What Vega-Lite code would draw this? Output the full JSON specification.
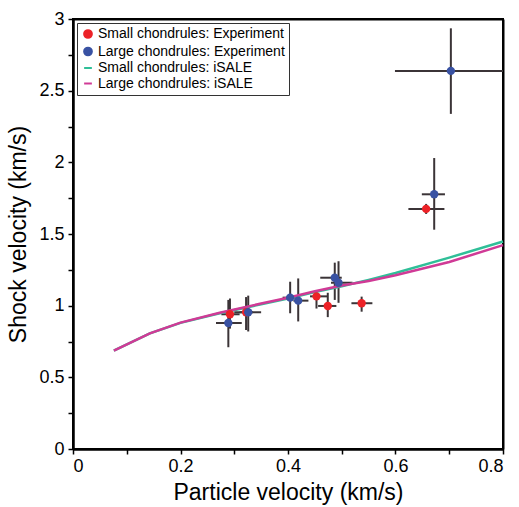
{
  "$schema": "https://vega.github.io/schema/vega-lite/v6.json",
  "width": 430,
  "height": 430,
  "autosize": {"type": "none"},
  "padding": {"left": 73, "top": 19, "right": 16, "bottom": 58},
  "background": "white",
  "config": {
    "view": {"stroke": "black", "strokeWidth": 2},
    "font": "Liberation Sans",
    "axis": {
      "domainColor": "black",
      "domainWidth": 2,
      "grid": true,
      "gridColor": "black",
      "gridWidth": 2,
      "tickColor": "black",
      "tickWidth": 1.5,
      "tickSize": 5,
      "labelFont": "Liberation Sans",
      "labelFontSize": 18,
      "labelColor": "black",
      "titleFont": "Liberation Sans",
      "titleFontSize": 23,
      "titleFontWeight": "normal",
      "titleColor": "black"
    }
  },
  "datasets": {
    "exp": [
      {"series": "Small chondrules: Experiment", "u": 0.292, "v": 0.94, "ulo": 0.276, "uhi": 0.31, "vlo": 0.84, "vhi": 1.05},
      {"series": "Small chondrules: Experiment", "u": 0.322, "v": 0.954, "ulo": 0.31, "uhi": 0.335, "vlo": 0.83, "vhi": 1.06},
      {"series": "Small chondrules: Experiment", "u": 0.453, "v": 1.065, "ulo": 0.441, "uhi": 0.474, "vlo": 0.98, "vhi": 1.1},
      {"series": "Small chondrules: Experiment", "u": 0.474, "v": 0.998, "ulo": 0.456, "uhi": 0.49, "vlo": 0.92, "vhi": 1.09},
      {"series": "Small chondrules: Experiment", "u": 0.537, "v": 1.017, "ulo": 0.518, "uhi": 0.557, "vlo": 0.958, "vhi": 1.063},
      {"series": "Small chondrules: Experiment", "u": 0.657, "v": 1.675, "ulo": 0.624, "uhi": 0.691, "vlo": 1.64, "vhi": 1.71},
      {"series": "Large chondrules: Experiment", "u": 0.289, "v": 0.879, "ulo": 0.266, "uhi": 0.314, "vlo": 0.71, "vhi": 1.04},
      {"series": "Large chondrules: Experiment", "u": 0.326, "v": 0.954, "ulo": 0.3, "uhi": 0.35, "vlo": 0.82, "vhi": 1.07},
      {"series": "Large chondrules: Experiment", "u": 0.404, "v": 1.056, "ulo": 0.39, "uhi": 0.42, "vlo": 0.947, "vhi": 1.167},
      {"series": "Large chondrules: Experiment", "u": 0.419, "v": 1.035, "ulo": 0.41, "uhi": 0.438, "vlo": 0.89, "vhi": 1.19},
      {"series": "Large chondrules: Experiment", "u": 0.487, "v": 1.195, "ulo": 0.46, "uhi": 0.5, "vlo": 1.04, "vhi": 1.3},
      {"series": "Large chondrules: Experiment", "u": 0.494, "v": 1.16, "ulo": 0.48, "uhi": 0.52, "vlo": 1.02, "vhi": 1.31},
      {"series": "Large chondrules: Experiment", "u": 0.672, "v": 1.777, "ulo": 0.649, "uhi": 0.692, "vlo": 1.53, "vhi": 2.03},
      {"series": "Large chondrules: Experiment", "u": 0.703, "v": 2.638, "ulo": 0.599, "uhi": 0.8, "vlo": 2.338, "vhi": 2.935}
    ],
    "sim": [
      {"series": "Small chondrules: iSALE", "u": 0.076, "v": 0.686},
      {"series": "Small chondrules: iSALE", "u": 0.143, "v": 0.807},
      {"series": "Small chondrules: iSALE", "u": 0.2, "v": 0.88},
      {"series": "Small chondrules: iSALE", "u": 0.273, "v": 0.947},
      {"series": "Small chondrules: iSALE", "u": 0.35, "v": 1.01},
      {"series": "Small chondrules: iSALE", "u": 0.4, "v": 1.05},
      {"series": "Small chondrules: iSALE", "u": 0.45, "v": 1.095},
      {"series": "Small chondrules: iSALE", "u": 0.5, "v": 1.135},
      {"series": "Small chondrules: iSALE", "u": 0.55, "v": 1.18},
      {"series": "Small chondrules: iSALE", "u": 0.6, "v": 1.228},
      {"series": "Small chondrules: iSALE", "u": 0.7, "v": 1.335},
      {"series": "Small chondrules: iSALE", "u": 0.8, "v": 1.448},
      {"series": "Large chondrules: iSALE", "u": 0.076, "v": 0.686},
      {"series": "Large chondrules: iSALE", "u": 0.143, "v": 0.807},
      {"series": "Large chondrules: iSALE", "u": 0.2, "v": 0.882},
      {"series": "Large chondrules: iSALE", "u": 0.273, "v": 0.95},
      {"series": "Large chondrules: iSALE", "u": 0.35, "v": 1.015},
      {"series": "Large chondrules: iSALE", "u": 0.4, "v": 1.055},
      {"series": "Large chondrules: iSALE", "u": 0.45, "v": 1.1},
      {"series": "Large chondrules: iSALE", "u": 0.5, "v": 1.14},
      {"series": "Large chondrules: iSALE", "u": 0.55, "v": 1.172},
      {"series": "Large chondrules: iSALE", "u": 0.6, "v": 1.212},
      {"series": "Large chondrules: iSALE", "u": 0.7, "v": 1.305},
      {"series": "Large chondrules: iSALE", "u": 0.8, "v": 1.422}
    ],
    "one": [{}]
  },
  "encoding": {
    "x": {"type": "quantitative", "scale": {"domain": [0, 0.8]},
          "axis": {"title": "Particle velocity (km/s)", "values": [0, 0.1, 0.2, 0.3, 0.4, 0.5, 0.6, 0.7, 0.8],
                   "gridOpacity": {"condition": {"test": "datum.value <= 0.001 || datum.value >= 0.799", "value": 1}, "value": 0},
                   "labelExpr": "round(datum.value*10) % 2 == 0 ? toString(round(datum.value*10)/10) : ''", "labelPadding": 3, "titlePadding": 6}},
    "y": {"type": "quantitative", "scale": {"domain": [0, 3]},
          "axis": {"title": "Shock velocity (km/s)", "values": [0, 0.25, 0.5, 0.75, 1, 1.25, 1.5, 1.75, 2, 2.25, 2.5, 2.75, 3],
                   "gridOpacity": {"condition": {"test": "datum.value <= 0.001 || datum.value >= 2.999", "value": 1}, "value": 0},
                   "labelExpr": "round(datum.value*4) % 2 == 0 ? toString(datum.value) : ''", "labelPadding": 4, "titlePadding": 8}}
  },
  "layer": [
    {
      "data": {"name": "one"},
      "mark": {"type": "rect", "fill": null, "filled": false, "stroke": "black", "strokeWidth": 2},
      "encoding": {
        "x": {"datum": 0},
        "x2": {"datum": 0.8},
        "y": {"datum": 0},
        "y2": {"datum": 3}
      }
    },
    {
      "data": {"name": "exp"},
      "mark": {"type": "rule", "color": "#3b3437", "strokeWidth": 2},
      "encoding": {
        "x": {"field": "u"},
        "y": {"field": "vlo"},
        "y2": {"field": "vhi"}
      }
    },
    {
      "data": {"name": "exp"},
      "mark": {"type": "rule", "color": "#3b3437", "strokeWidth": 2, "clip": true},
      "encoding": {
        "x": {"field": "ulo"},
        "x2": {"field": "uhi"},
        "y": {"field": "v"}
      }
    },
    {
      "data": {"name": "sim"},
      "mark": {"type": "line", "strokeWidth": 2.5},
      "encoding": {
        "x": {"field": "u"},
        "y": {"field": "v"},
        "color": {"field": "series", "type": "nominal"}
      }
    },
    {
      "data": {"name": "exp"},
      "mark": {"type": "point", "filled": true, "opacity": 1, "size": 70},
      "encoding": {
        "x": {"field": "u"},
        "y": {"field": "v"},
        "color": {
          "field": "series", "type": "nominal",
          "scale": {
            "domain": ["Small chondrules: Experiment", "Large chondrules: Experiment", "Small chondrules: iSALE", "Large chondrules: iSALE"],
            "range": ["#ec2227", "#3952a3", "#2fbf98", "#d03a96"]
          },
          "legend": {
            "title": null,
            "orient": "top-left",
            "offset": 4,
            "fillColor": "white",
            "strokeColor": "#333333",
            "padding": 4,
            "labelFont": "Liberation Sans",
            "labelFontSize": 14,
            "labelLimit": 0,
            "labelColor": "black",
            "labelOffset": 3,
            "rowPadding": 1.5,
            "symbolSize": 60,
            "symbolStrokeWidth": 2,
            "encode": {"symbols": {"update": {"stroke": {"scale": "color", "field": "value"}}}}
          }
        },
        "shape": {
          "field": "series", "type": "nominal",
          "scale": {
            "domain": ["Small chondrules: Experiment", "Large chondrules: Experiment", "Small chondrules: iSALE", "Large chondrules: iSALE"],
            "range": ["circle", "circle", "stroke", "stroke"]
          }
        }
      }
    }
  ]
}
